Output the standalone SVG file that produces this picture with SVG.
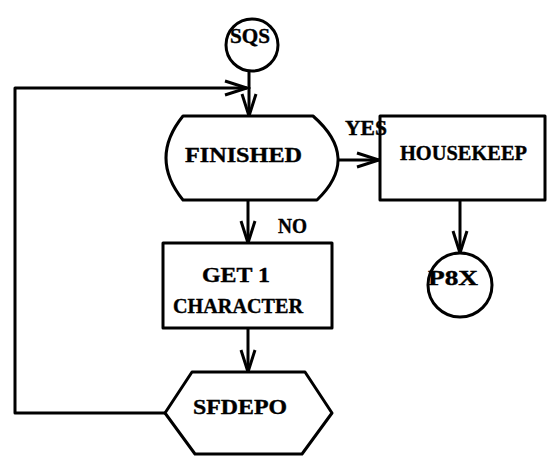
<svg xmlns="http://www.w3.org/2000/svg" width="552" height="457" viewBox="0 0 552 457">
<style>
.s{fill:none;stroke:#000;stroke-width:3;stroke-linejoin:round}
.n{fill:#fff;stroke:#000;stroke-width:3;stroke-linejoin:round}
.t{font-family:"Liberation Serif","DejaVu Serif",serif;font-weight:bold;font-size:22px;fill:#000;stroke:#000;stroke-width:0.4}
</style>
<defs>
<marker id="ah" markerUnits="userSpaceOnUse" markerWidth="30" markerHeight="20" viewBox="-24 -10 26 20" refX="0" refY="0" orient="auto">
<path d="M-22,-7 L0,0 L-22,7" fill="none" stroke="#000" stroke-width="3"/>
</marker>
</defs>
<rect width="552" height="457" fill="#fff"/>
<g id="connectors">
<line class="s" x1="249" y1="71" x2="249" y2="116" marker-end="url(#ah)"/>
<path class="s" d="M165,413 L15,413 L15,88 L247,88" marker-end="url(#ah)"/>
<line class="s" x1="338" y1="160" x2="379" y2="160" marker-end="url(#ah)"/>
<line class="s" x1="248" y1="200" x2="248" y2="243" marker-end="url(#ah)"/>
<line class="s" x1="248" y1="328" x2="248" y2="372" marker-end="url(#ah)"/>
<line class="s" x1="460" y1="200" x2="460" y2="253" marker-end="url(#ah)"/>
</g>
<g id="sqs">
<circle class="n" cx="252" cy="45" r="26"/>
<text class="t" x="230" y="43" textLength="40" lengthAdjust="spacingAndGlyphs" font-size="20">SQS</text>
</g>
<g id="finished">
<path class="n" d="M183,116 L313,116 Q361,158 317,200 L183,200 Q149,158 183,116 Z"/>
<text class="t" x="185" y="162" textLength="117" lengthAdjust="spacingAndGlyphs">FINISHED</text>
</g>
<g id="housekeep">
<rect class="n" x="380" y="116" width="165" height="84"/>
<text class="t" x="400" y="160" textLength="127" lengthAdjust="spacingAndGlyphs">HOUSEKEEP</text>
</g>
<g id="labels">
<text class="t" x="345" y="135" textLength="42" lengthAdjust="spacingAndGlyphs" font-size="20">YES</text>
<text class="t" x="278" y="233" textLength="29" lengthAdjust="spacingAndGlyphs" font-size="20">NO</text>
</g>
<g id="p8x">
<circle class="n" cx="460" cy="285" r="32"/>
<text class="t" x="428" y="285" textLength="50" lengthAdjust="spacingAndGlyphs">P8X</text>
</g>
<g id="get1char">
<rect class="n" x="163" y="243" width="169" height="85"/>
<text class="t" x="202" y="282" textLength="68" lengthAdjust="spacingAndGlyphs">GET 1</text>
<text class="t" x="173" y="313" textLength="130" lengthAdjust="spacingAndGlyphs">CHARACTER</text>
</g>
<g id="sfdepo">
<path class="n" d="M192,372 L305,372 L332,413 L302,454 L195,454 L165,413 Z"/>
<text class="t" x="193" y="414" textLength="94" lengthAdjust="spacingAndGlyphs">SFDEPO</text>
</g>
</svg>
